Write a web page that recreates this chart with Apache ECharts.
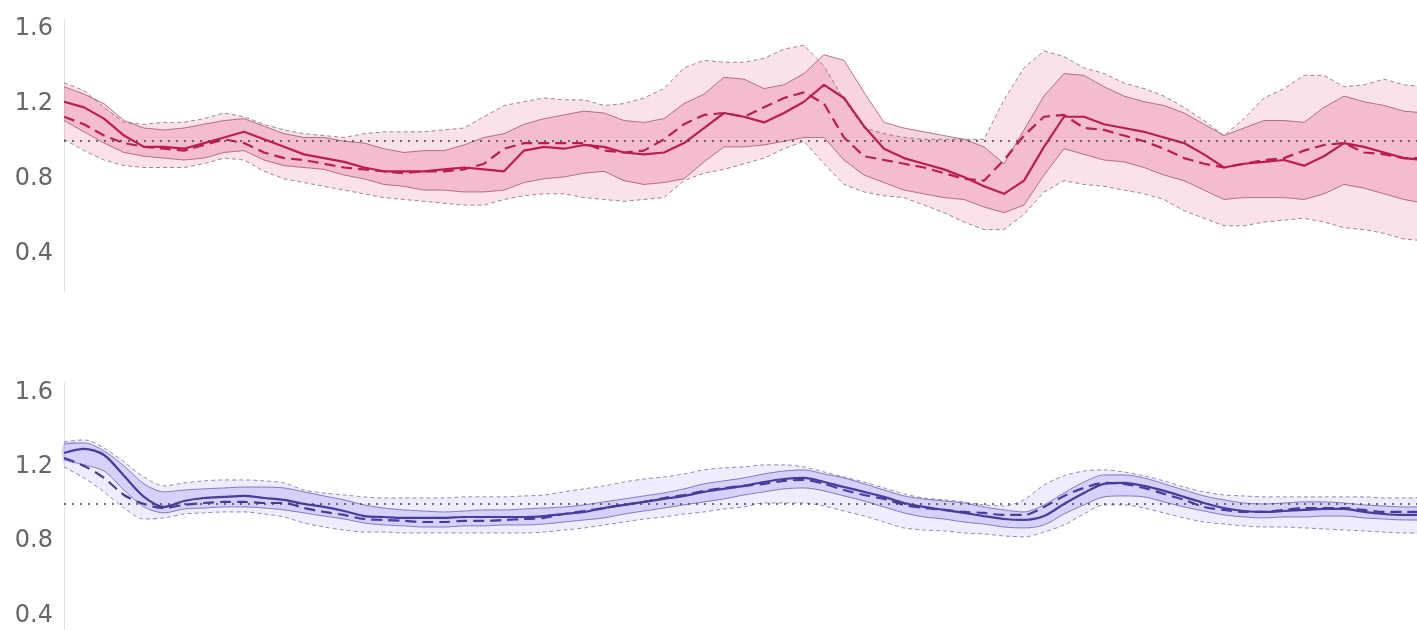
<!DOCTYPE html>
<html>
<head>
<meta charset="utf-8">
<script src="https://cdn.jsdelivr.net/npm/echarts@6/dist/echarts.min.js"></script>
<style>
  html, body { margin: 0; padding: 0; background: #fff; }
  #chart { width: 1417px; height: 630px; }
</style>
</head>
<body>
<div id="chart"></div>
<script>
// sample index along the horizontal axis
const t = Array.from({ length: 69 }, (_, i) => i);

// upper panel (crimson)
const topMid = [1.21,1.18,1.12,1.03,0.97,0.97,0.96,0.99,1.02,1.05,1.01,0.97,0.93,0.91,0.89,0.86,0.84,0.84,0.84,0.85,0.86,0.85,0.84,0.95,0.97,0.96,0.98,0.97,0.94,0.93,0.94,0.99,1.07,1.15,1.13,1.10,1.15,1.21,1.30,1.23,1.08,0.96,0.91,0.88,0.85,0.81,0.76,0.72,0.79,0.97,1.13,1.13,1.09,1.07,1.05,1.02,0.99,0.93,0.86,0.88,0.89,0.90,0.87,0.92,0.99,0.97,0.94,0.91,0.90];
const topAlt = [1.13,1.09,1.03,0.99,0.97,0.96,0.95,0.98,1.01,0.99,0.94,0.91,0.90,0.88,0.86,0.85,0.84,0.83,0.84,0.84,0.85,0.88,0.96,0.99,0.99,0.99,0.99,0.95,0.94,0.95,1.01,1.09,1.14,1.15,1.13,1.18,1.23,1.26,1.20,1.02,0.92,0.90,0.88,0.86,0.83,0.80,0.79,0.90,1.03,1.13,1.14,1.07,1.06,1.03,1.00,0.96,0.91,0.88,0.86,0.88,0.90,0.91,0.95,0.98,0.99,0.94,0.93,0.91,0.91];
const topInnerHi = [1.29,1.25,1.20,1.11,1.07,1.06,1.07,1.09,1.11,1.12,1.08,1.04,1.02,1.02,1.00,0.99,0.96,0.94,0.95,0.95,0.98,1.02,1.04,1.09,1.12,1.14,1.16,1.15,1.11,1.10,1.12,1.20,1.25,1.34,1.33,1.28,1.30,1.36,1.46,1.43,1.26,1.10,1.07,1.05,1.03,1.01,0.97,0.88,1.06,1.24,1.36,1.35,1.29,1.24,1.21,1.19,1.15,1.09,1.03,1.07,1.11,1.11,1.10,1.18,1.24,1.21,1.19,1.16,1.15];
const topInnerLo = [1.11,1.05,0.99,0.94,0.92,0.91,0.90,0.91,0.94,0.95,0.90,0.87,0.86,0.85,0.82,0.80,0.77,0.76,0.74,0.74,0.73,0.73,0.74,0.78,0.80,0.81,0.83,0.84,0.79,0.77,0.78,0.80,0.89,0.97,0.97,0.98,1.00,1.02,1.02,0.90,0.82,0.78,0.74,0.72,0.70,0.69,0.65,0.62,0.66,0.82,0.96,0.93,0.90,0.89,0.86,0.82,0.79,0.74,0.69,0.70,0.70,0.70,0.69,0.72,0.77,0.75,0.72,0.69,0.67];
const topOuterHi = [1.31,1.27,1.18,1.10,1.09,1.10,1.10,1.12,1.15,1.13,1.09,1.06,1.04,1.03,1.02,1.04,1.05,1.05,1.05,1.06,1.07,1.13,1.19,1.21,1.23,1.22,1.22,1.19,1.20,1.23,1.28,1.39,1.43,1.42,1.42,1.44,1.49,1.51,1.40,1.22,1.07,1.04,1.02,1.01,1.01,1.01,1.01,1.22,1.39,1.48,1.45,1.39,1.36,1.31,1.28,1.24,1.18,1.11,1.03,1.12,1.23,1.28,1.35,1.35,1.29,1.30,1.33,1.30,1.29];
const topOuterLo = [1.01,0.95,0.90,0.87,0.86,0.86,0.86,0.88,0.91,0.90,0.84,0.80,0.78,0.76,0.74,0.72,0.70,0.69,0.68,0.67,0.66,0.66,0.69,0.71,0.72,0.72,0.70,0.69,0.68,0.69,0.70,0.79,0.83,0.85,0.88,0.91,0.96,1.00,0.88,0.77,0.73,0.71,0.70,0.66,0.62,0.57,0.53,0.53,0.61,0.73,0.79,0.77,0.76,0.74,0.72,0.69,0.63,0.59,0.55,0.55,0.57,0.58,0.59,0.57,0.54,0.53,0.51,0.48,0.47];

// lower panel (indigo)
const botMid = [1.274,1.296,1.263,1.151,1.038,0.984,1.016,1.032,1.038,1.043,1.032,1.022,1.000,0.984,0.962,0.935,0.930,0.925,0.925,0.925,0.930,0.930,0.930,0.930,0.935,0.946,0.957,0.978,0.995,1.011,1.027,1.043,1.065,1.081,1.097,1.118,1.134,1.140,1.118,1.091,1.065,1.038,1.005,0.984,0.968,0.952,0.935,0.919,0.914,0.935,1.000,1.059,1.108,1.113,1.097,1.070,1.038,1.005,0.978,0.962,0.957,0.962,0.968,0.973,0.973,0.957,0.946,0.941,0.941];
const botAlt = [1.247,1.204,1.140,1.048,1.000,0.978,0.995,1.005,1.011,1.011,1.005,1.005,0.978,0.957,0.941,0.919,0.914,0.909,0.903,0.903,0.909,0.909,0.914,0.919,0.925,0.946,0.962,0.978,0.995,1.011,1.032,1.048,1.070,1.086,1.097,1.108,1.124,1.129,1.108,1.075,1.048,1.027,0.995,0.978,0.968,0.957,0.952,0.941,0.941,0.984,1.043,1.086,1.113,1.108,1.086,1.054,1.022,0.984,0.968,0.957,0.957,0.968,0.978,0.978,0.978,0.968,0.957,0.957,0.957];
const botInnerHi = [1.323,1.328,1.285,1.204,1.108,1.065,1.075,1.081,1.086,1.091,1.091,1.086,1.065,1.043,1.022,0.995,0.978,0.968,0.962,0.957,0.962,0.968,0.968,0.973,0.978,0.984,0.995,1.011,1.027,1.043,1.059,1.081,1.108,1.124,1.140,1.161,1.177,1.183,1.161,1.140,1.108,1.075,1.043,1.027,1.016,1.005,0.984,0.968,0.957,0.995,1.059,1.118,1.156,1.156,1.140,1.108,1.075,1.043,1.022,1.005,1.000,1.005,1.011,1.011,1.005,0.995,0.989,0.984,0.984];
const botInnerLo = [1.237,1.210,1.177,1.075,0.984,0.952,0.973,0.978,0.984,0.984,0.978,0.968,0.952,0.935,0.919,0.898,0.887,0.882,0.876,0.876,0.882,0.882,0.887,0.887,0.892,0.903,0.914,0.925,0.946,0.962,0.978,0.995,1.011,1.027,1.048,1.065,1.081,1.086,1.070,1.043,1.016,0.984,0.952,0.930,0.919,0.903,0.892,0.876,0.871,0.887,0.946,0.995,1.038,1.043,1.038,1.011,0.984,0.962,0.941,0.930,0.925,0.930,0.930,0.935,0.935,0.925,0.919,0.914,0.914];
const botOuterHi = [1.333,1.344,1.301,1.226,1.145,1.097,1.113,1.124,1.129,1.129,1.124,1.113,1.075,1.059,1.048,1.038,1.032,1.032,1.032,1.032,1.038,1.038,1.038,1.043,1.048,1.065,1.081,1.097,1.118,1.134,1.145,1.161,1.183,1.194,1.199,1.210,1.210,1.199,1.172,1.145,1.118,1.086,1.054,1.032,1.022,1.011,0.995,0.989,1.022,1.102,1.151,1.177,1.183,1.172,1.151,1.124,1.091,1.065,1.048,1.043,1.038,1.038,1.038,1.038,1.038,1.038,1.032,1.032,1.032];
const botOuterLo = [1.199,1.140,1.065,0.978,0.919,0.925,0.946,0.952,0.957,0.957,0.946,0.930,0.898,0.876,0.860,0.849,0.849,0.844,0.844,0.844,0.844,0.844,0.844,0.844,0.849,0.860,0.871,0.887,0.903,0.919,0.930,0.946,0.957,0.973,0.984,1.005,1.005,1.005,0.989,0.962,0.935,0.903,0.871,0.860,0.855,0.844,0.839,0.828,0.823,0.849,0.887,0.946,0.995,0.995,0.978,0.952,0.925,0.903,0.892,0.882,0.876,0.876,0.871,0.866,0.860,0.855,0.849,0.844,0.844];

// y-axis tick labels shared by both panels
const yTicks = [0.4, 0.8, 1.2, 1.6];

const pairs = (vals) => t.map((x, i) => [x, vals[i]]);

// filled interval between two bounds, drawn as one polygon in data coordinates
function bandFill(panel, lo, hi, fill, smooth) {
  return {
    type: 'custom', xAxisIndex: panel, yAxisIndex: panel, silent: true,
    data: t.map((x, i) => [x, lo[i], hi[i]]),
    encode: { x: 0, y: [1, 2] },
    renderItem: (params, api) => {
      if (params.dataIndex !== 0) return null;
      const upper = t.map((x, i) => api.coord([x, hi[i]]));
      const lower = t.map((x, i) => api.coord([x, lo[i]])).reverse();
      return {
        type: 'polygon',
        shape: { points: upper.concat(lower), smooth: smooth || 0 },
        style: { fill: fill }
      };
    }
  };
}

function edge(panel, vals, style, smooth) {
  return {
    type: 'line', xAxisIndex: panel, yAxisIndex: panel, symbol: 'none',
    smooth: smooth, silent: true, data: pairs(vals), lineStyle: style
  };
}

function centre(panel, vals, color, dashed, smooth, withRef) {
  const s = edge(panel, vals,
    { color: color, width: 2.2, type: dashed ? [11, 6] : 'solid' }, smooth);
  if (withRef) {
    s.markLine = {
      silent: true, symbol: 'none', label: { show: false },
      lineStyle: { color: '#444', width: 1.6, type: [2, 6] },
      data: [{ yAxis: 1 }]
    };
  }
  return s;
}

const yAxisBase = (idx, min) => ({
  type: 'value', gridIndex: idx, min: min, max: 1.65,
  splitLine: { show: false },
  axisTick: { show: false },
  axisLine: { show: true, lineStyle: { color: '#e2e2e2', width: 1 } },
  axisLabel: {
    customValues: yTicks, margin: 11, color: '#666',
    fontFamily: 'DejaVu Sans', fontSize: 24,
    padding: [6, 0, 0, 0],
    formatter: (v) => v.toFixed(1)
  }
});

const xAxisBase = (idx) => ({
  type: 'value', gridIndex: idx, min: 0, max: 67.65, show: false
});

const topOuterEdge = { color: 'rgba(120,100,105,0.75)', width: 1, type: [4, 3] };
const topInnerEdge = { color: 'rgba(150,70,95,0.7)', width: 1 };
const botOuterEdge = { color: 'rgba(110,105,150,0.75)', width: 1, type: [4, 3] };
const botInnerEdge = { color: 'rgba(90,80,170,0.7)', width: 1 };

const chart = echarts.init(document.getElementById('chart'), null, { renderer: 'canvas' });
chart.setOption({
  animation: false,
  backgroundColor: '#fff',
  grid: [
    { left: 64, right: 0, top: 19, height: 272.6 },
    { left: 64, right: 0, top: 383, bottom: 0 }
  ],
  xAxis: [xAxisBase(0), xAxisBase(1)],
  yAxis: [yAxisBase(0, 0.2), yAxisBase(1, 0.3226)],
  series: [
    bandFill(0, topOuterLo, topOuterHi, 'rgba(230,60,110,0.15)', 0),
    bandFill(0, topInnerLo, topInnerHi, 'rgba(220,60,110,0.22)', 0),
    edge(0, topOuterLo, topOuterEdge, false),
    edge(0, topOuterHi, topOuterEdge, false),
    edge(0, topInnerLo, topInnerEdge, false),
    edge(0, topInnerHi, topInnerEdge, false),
    centre(0, topAlt, '#bb1d52', true, false, false),
    centre(0, topMid, '#bb1d52', false, false, true),

    bandFill(1, botOuterLo, botOuterHi, 'rgba(120,110,240,0.12)', 0.3),
    bandFill(1, botInnerLo, botInnerHi, 'rgba(110,100,230,0.2)', 0.3),
    edge(1, botOuterLo, botOuterEdge, 0.3),
    edge(1, botOuterHi, botOuterEdge, 0.3),
    edge(1, botInnerLo, botInnerEdge, 0.3),
    edge(1, botInnerHi, botInnerEdge, 0.3),
    centre(1, botAlt, '#443d9c', true, 0.3, false),
    centre(1, botMid, '#443d9c', false, 0.3, true)
  ]
});
</script>
</body>
</html>
